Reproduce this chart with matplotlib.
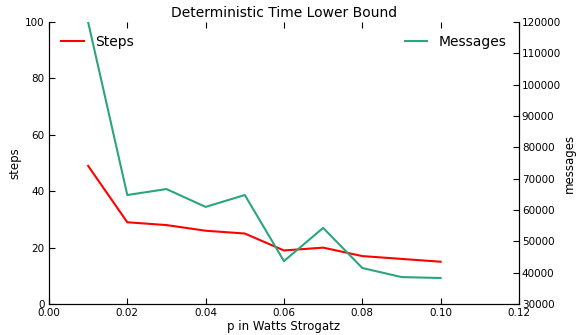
import matplotlib
matplotlib.use("Agg")
import matplotlib.pyplot as plt

# Watts-Strogatz rewiring probability and measured costs
p_values = [0.01, 0.02, 0.03, 0.04, 0.05, 0.06, 0.07, 0.08, 0.09, 0.10]
steps = [49, 29, 28, 26, 25, 19, 20, 17, 16, 15]
messages = [120000, 64800, 66700, 61000, 64800, 43700, 54300, 41500, 38600, 38300]

fig, ax = plt.subplots(figsize=(5.76, 3.35), dpi=100)
fig.subplots_adjust(left=0.085, right=0.901, top=0.934, bottom=0.0925)

ax.plot(p_values, steps, color="#ff0000", lw=1.5, label="Steps")
ax.set_xlim(0, 0.12)
ax.set_ylim(0, 100)
ax.set_xlabel("p in Watts Strogatz", fontsize=8.5, labelpad=1)
ax.set_ylabel("steps", fontsize=8.5, labelpad=3)
ax.set_title("Deterministic Time Lower Bound", fontsize=10, pad=4)
ax.legend(loc="upper left", frameon=False, fontsize=10, handlelength=1.6)

ax2 = ax.twinx()
ax2.plot(p_values, messages, color="#2aa57e", lw=1.5, label="Messages")
ax2.set_ylim(30000, 120000)
ax2.set_ylabel("messages", fontsize=8.5)
ax2.yaxis.set_label_coords(1.093, 0.5)
ax2.legend(loc="upper right", frameon=False, fontsize=10, handlelength=1.6)

for a in (ax, ax2):
    a.spines["top"].set_visible(False)
    a.tick_params(direction="in", labelsize=7.5, length=4, pad=3)
ax.tick_params(axis="x", top=True)
ax.tick_params(axis="y", right=False)
ax2.tick_params(axis="y", pad=2)

fig.savefig("out.png", dpi=100)
